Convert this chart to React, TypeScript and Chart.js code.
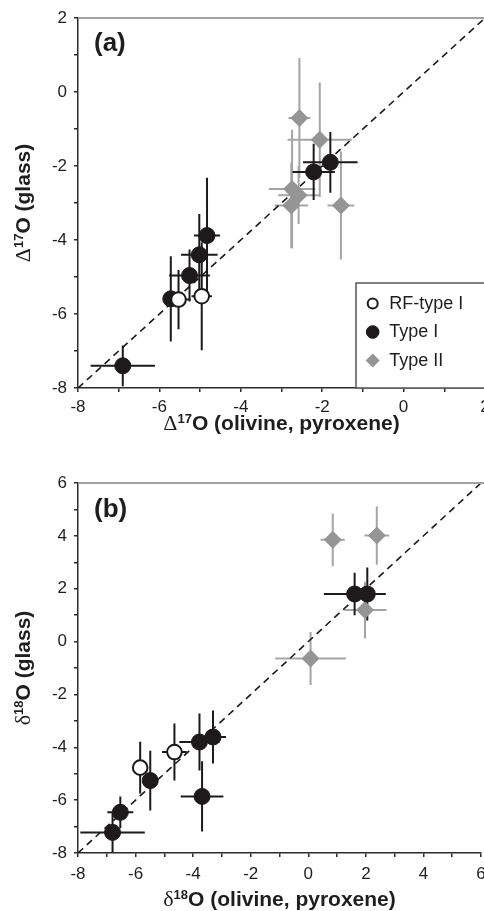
import React, { useEffect, useRef } from "react";
import { Chart, registerables } from "chart.js";

Chart.register(...registerables);

// ---- Panel (a): Δ17O of glass vs. olivine/pyroxene ----
const aRfX = [-5.53, -4.96];
const aRfY = [-5.61, -5.52];
const aRfXErr = [0.3, 0.25];
const aRfYErr = [0.8, 1.46];

const aT1X = [-6.9, -5.72, -5.26, -5.02, -4.83, -2.21, -1.8];
const aT1Y = [-7.4, -5.59, -4.96, -4.4, -3.88, -2.16, -1.9];
const aT1XErr = [0.79, 0.15, 0.5, 0.45, 0.32, 0.52, 0.67];
const aT1YErr = [0.55, 1.15, 0.7, 1.1, 1.56, 0.76, 0.82];

const aT2X = [-2.56, -2.06, -2.74, -2.58, -2.76, -1.54];
const aT2Y = [-0.7, -1.29, -2.62, -2.79, -3.07, -3.07];
const aT2XErr = [0.27, 0.79, 0.57, 0.5, 0.41, 0.33];
const aT2YErr = [1.62, 1.55, 1.6, 0.78, 1.15, 1.46];

const aRange = [-8, 2];

// ---- Panel (b): δ18O of glass vs. olivine/pyroxene ----
const bRfX = [-5.84, -4.65];
const bRfY = [-4.77, -4.18];
const bRfXErr = [0.2, 0.43];
const bRfYErr = [0.98, 1.08];

const bT1X = [-6.8, -6.53, -5.49, -3.78, -3.31, -3.69, 1.61, 2.05];
const bT1Y = [-7.22, -6.46, -5.26, -3.8, -3.61, -5.86, 1.8, 1.8];
const bT1XErr = [1.12, 0.45, 0.2, 0.7, 0.45, 0.74, 1.07, 0.64];
const bT1YErr = [0.75, 0.6, 1.13, 1.08, 1.0, 1.33, 0.8, 1.0];

const bT2X = [0.85, 2.38, 1.97, 0.08];
const bT2Y = [3.85, 4.01, 1.19, -0.64];
const bT2XErr = [0.42, 0.43, 0.75, 1.23];
const bT2YErr = [1.0, 1.1, 1.07, 1.0];

const bXRange = [-8, 6];
const bYRange = [-8, 6];

const legendLabels = ["RF-type I", "Type I", "Type II"];

const SANS = '"Liberation Sans", Arial, sans-serif';
const SERIF = '"Liberation Serif", "Times New Roman", serif';
const AXIS = "#2b2b2b";
const TEXT = "#1e1e1e";
const FRAME = "#a2a2a2";

type Kind = "open" | "filled" | "diamond";
type Series = {
  label: string;
  kind: Kind;
  xs: number[];
  ys: number[];
  xErr: number[];
  yErr: number[];
};

const STYLE: Record<Kind, { pointStyle: string; radius: number; bg: string; border: string; bw: number; bar: string }> = {
  open: { pointStyle: "circle", radius: 7.3, bg: "#ffffff", border: "#1a1a1a", bw: 2, bar: "#1a1a1a" },
  filled: { pointStyle: "circle", radius: 8, bg: "#1c1a1b", border: "#1c1a1b", bw: 1, bar: "#1c1a1b" },
  diamond: { pointStyle: "rectRot", radius: 9, bg: "#959595", border: "#959595", bw: 0, bar: "#a5a5a5" },
};

type Seg = { text: string; font: string; rise?: number };

function drawRich(ctx: CanvasRenderingContext2D, segs: Seg[], x: number, y: number, vertical: boolean) {
  ctx.save();
  ctx.translate(x, y);
  if (vertical) ctx.rotate(-Math.PI / 2);
  let total = 0;
  for (const s of segs) {
    ctx.font = s.font;
    total += ctx.measureText(s.text).width;
  }
  let cx = -total / 2;
  ctx.textAlign = "left";
  ctx.textBaseline = "alphabetic";
  ctx.fillStyle = TEXT;
  for (const s of segs) {
    ctx.font = s.font;
    ctx.fillText(s.text, cx, -(s.rise || 0));
    cx += ctx.measureText(s.text).width;
  }
  ctx.restore();
}

function isoTitle(symbol: string, mass: string, rest: string): Seg[] {
  return [
    { text: symbol, font: `22px ${SERIF}` },
    { text: mass, font: `bold 13px ${SANS}`, rise: 7.5 },
    { text: "O " + rest, font: `bold 21px ${SANS}` },
  ];
}

type PanelCfg = {
  top: number;
  height: number;
  padTop: number;
  padRight: number;
  xAxisH: number;
  xRange: number[];
  yRange: number[];
  series: Series[];
  tag: string;
  tagY: number;
  symbol: string;
  mass: string;
  xTitleBaseline: number;
  tickPad: number;
  legend: boolean;
};

const CANVAS_W = 520;

function Panel({ cfg }: { cfg: PanelCfg }) {
  const ref = useRef<HTMLCanvasElement | null>(null);

  useEffect(() => {
    const canvas = ref.current;
    if (!canvas) return;

    const datasets: any[] = cfg.series.map((s) => {
      const st = STYLE[s.kind];
      return {
        label: s.label,
        data: s.xs.map((x, i) => ({ x, y: s.ys[i] })),
        pointStyle: st.pointStyle,
        pointRadius: st.radius,
        pointBackgroundColor: st.bg,
        pointBorderColor: st.border,
        pointBorderWidth: st.bw,
        pointHoverRadius: st.radius,
        showLine: false,
        clip: false,
      };
    });
    // 1:1 reference line across the full plotted range
    datasets.push({
      label: "1:1",
      data: [
        { x: cfg.xRange[0], y: cfg.yRange[0] },
        { x: cfg.xRange[1], y: cfg.yRange[1] },
      ],
      showLine: true,
      borderColor: "#1a1a1a",
      borderWidth: 1.6,
      borderDash: [7, 5],
      pointRadius: 0,
      pointHoverRadius: 0,
    });

    const errorBars = {
      id: "errorBars",
      beforeDatasetsDraw(chart: any) {
        const { ctx, scales } = chart;
        const xs = scales.x;
        const ys = scales.y;
        ctx.save();
        ctx.lineWidth = 2;
        ctx.lineCap = "butt";
        const order: Kind[] = ["diamond", "filled", "open"];
        for (const kind of order) {
          for (const s of cfg.series.filter((q) => q.kind === kind)) {
            ctx.strokeStyle = STYLE[kind].bar;
            s.xs.forEach((x, i) => {
              const y = s.ys[i];
              const px = xs.getPixelForValue(x);
              const py = ys.getPixelForValue(y);
              ctx.beginPath();
              ctx.moveTo(xs.getPixelForValue(x - s.xErr[i]), py);
              ctx.lineTo(xs.getPixelForValue(x + s.xErr[i]), py);
              ctx.moveTo(px, ys.getPixelForValue(y + s.yErr[i]));
              ctx.lineTo(px, ys.getPixelForValue(y - s.yErr[i]));
              ctx.stroke();
            });
          }
        }
        ctx.restore();
      },
    };

    const decorations = {
      id: "decorations",
      afterDraw(chart: any) {
        const { ctx, chartArea } = chart;
        ctx.save();
        // grey upper frame line
        ctx.strokeStyle = FRAME;
        ctx.lineWidth = 2;
        ctx.beginPath();
        ctx.moveTo(chartArea.left, chartArea.top);
        ctx.lineTo(chart.width, chartArea.top);
        ctx.stroke();

        // panel tag
        ctx.fillStyle = TEXT;
        ctx.font = `bold 26px ${SANS}`;
        ctx.textAlign = "left";
        ctx.textBaseline = "middle";
        ctx.fillText(cfg.tag, chartArea.left + 16, cfg.tagY);
        ctx.restore();

        const cxMid = (chartArea.left + chartArea.right) / 2;
        const cyMid = (chartArea.top + chartArea.bottom) / 2;
        drawRich(ctx, isoTitle(cfg.symbol, cfg.mass, "(olivine, pyroxene)"), cxMid, cfg.xTitleBaseline, false);
        drawRich(ctx, isoTitle(cfg.symbol, cfg.mass, "(glass)"), 30, cyMid, true);
      },
    };

    const legendBox = {
      id: "legendBox",
      afterDatasetsDraw(chart: any) {
        if (!cfg.legend) return;
        const { ctx, chartArea } = chart;
        const left = chartArea.left + 278;
        const top = chartArea.top + 265;
        ctx.save();
        ctx.fillStyle = "#ffffff";
        ctx.strokeStyle = "#555555";
        ctx.lineWidth = 1.5;
        ctx.fillRect(left, top, chart.width - left + 5, chartArea.bottom - top);
        ctx.strokeRect(left, top, chart.width - left + 5, chartArea.bottom - top);
        const kinds: Kind[] = ["open", "filled", "diamond"];
        const legendRadius: Record<Kind, number> = { open: 5, filled: 6.3, diamond: 7 };
        kinds.forEach((kind, i) => {
          const st = STYLE[kind];
          const my = top + 20.5 + i * 28.5;
          const mx = left + 16.7;
          ctx.fillStyle = st.bg;
          ctx.strokeStyle = st.border;
          ctx.lineWidth = st.bw;
          ctx.beginPath();
          if (kind === "diamond") {
            const r = legendRadius[kind];
            ctx.moveTo(mx - r, my);
            ctx.lineTo(mx, my - r);
            ctx.lineTo(mx + r, my);
            ctx.lineTo(mx, my + r);
            ctx.closePath();
            ctx.fill();
          } else {
            ctx.arc(mx, my, legendRadius[kind], 0, Math.PI * 2);
            ctx.fill();
            if (st.bw) ctx.stroke();
          }
          ctx.fillStyle = TEXT;
          ctx.font = `18px ${SANS}`;
          ctx.textAlign = "left";
          ctx.textBaseline = "middle";
          ctx.fillText(legendLabels[i], left + 33.3, my + 0.5);
        });
        ctx.restore();
      },
    };

    const tickFont = { family: SANS, size: 17 };
    const evenOnly = (v: any) => (Number(v) % 2 === 0 ? String(Number(v)) : "");

    const chart = new Chart(canvas, {
      type: "scatter",
      data: { datasets },
      options: {
        animation: false,
        responsive: false,
        devicePixelRatio: 1,
        events: [],
        layout: { padding: { left: 0, top: cfg.padTop, right: cfg.padRight, bottom: 0 } },
        plugins: { legend: { display: false }, tooltip: { enabled: false } },
        scales: {
          x: {
            type: "linear",
            min: cfg.xRange[0],
            max: cfg.xRange[1],
            ticks: {
              stepSize: 1,
              autoSkip: false,
              maxRotation: 0,
              padding: cfg.tickPad,
              color: TEXT,
              font: tickFont,
              callback: evenOnly,
            },
            grid: { drawOnChartArea: false, drawTicks: true, tickLength: 4, color: AXIS, lineWidth: 1.5 },
            border: { display: true, color: AXIS, width: 1.5 },
            afterFit: (s: any) => {
              s.height = cfg.xAxisH;
            },
          } as any,
          y: {
            type: "linear",
            min: cfg.yRange[0],
            max: cfg.yRange[1],
            ticks: {
              stepSize: 1,
              autoSkip: false,
              padding: 7,
              color: TEXT,
              font: tickFont,
              callback: evenOnly,
            },
            grid: { drawOnChartArea: false, drawTicks: true, tickLength: 4, color: AXIS, lineWidth: 1.5 },
            border: { display: true, color: AXIS, width: 1.5 },
            afterFit: (s: any) => {
              s.width = 78;
            },
          } as any,
        },
      },
      plugins: [errorBars, legendBox, decorations],
    });

    return () => chart.destroy();
  }, [cfg]);

  return (
    <canvas
      ref={ref}
      width={CANVAS_W}
      height={cfg.height}
      style={{ position: "absolute", left: 0, top: cfg.top, width: CANVAS_W, height: cfg.height }}
    />
  );
}

const panelA: PanelCfg = {
  top: 0,
  height: 450,
  padTop: 18,
  padRight: CANVAS_W - 485,
  xAxisH: 62,
  xRange: aRange,
  yRange: aRange,
  series: [
    { label: legendLabels[0], kind: "open", xs: aRfX, ys: aRfY, xErr: aRfXErr, yErr: aRfYErr },
    { label: legendLabels[1], kind: "filled", xs: aT1X, ys: aT1Y, xErr: aT1XErr, yErr: aT1YErr },
    { label: legendLabels[2], kind: "diamond", xs: aT2X, ys: aT2Y, xErr: aT2XErr, yErr: aT2YErr },
  ],
  tag: "(a)",
  tagY: 44,
  symbol: "\u0394",
  mass: "17",
  xTitleBaseline: 430,
  tickPad: 5,
  legend: true,
};

const panelB: PanelCfg = {
  top: 455,
  height: 456,
  padTop: 28,
  padRight: CANVAS_W - 481,
  xAxisH: 58,
  xRange: bXRange,
  yRange: bYRange,
  series: [
    { label: legendLabels[0], kind: "open", xs: bRfX, ys: bRfY, xErr: bRfXErr, yErr: bRfYErr },
    { label: legendLabels[1], kind: "filled", xs: bT1X, ys: bT1Y, xErr: bT1XErr, yErr: bT1YErr },
    { label: legendLabels[2], kind: "diamond", xs: bT2X, ys: bT2Y, xErr: bT2XErr, yErr: bT2YErr },
  ],
  tag: "(b)",
  tagY: 55,
  symbol: "\u03b4",
  mass: "18",
  xTitleBaseline: 451,
  tickPad: 7,
  legend: false,
};

export default function App() {
  return (
    <div
      style={{
        position: "absolute",
        left: 0,
        top: 0,
        width: 484,
        height: 911,
        overflow: "hidden",
        background: "#ffffff",
      }}
    >
      <Panel cfg={panelA} />
      <Panel cfg={panelB} />
    </div>
  );
}
